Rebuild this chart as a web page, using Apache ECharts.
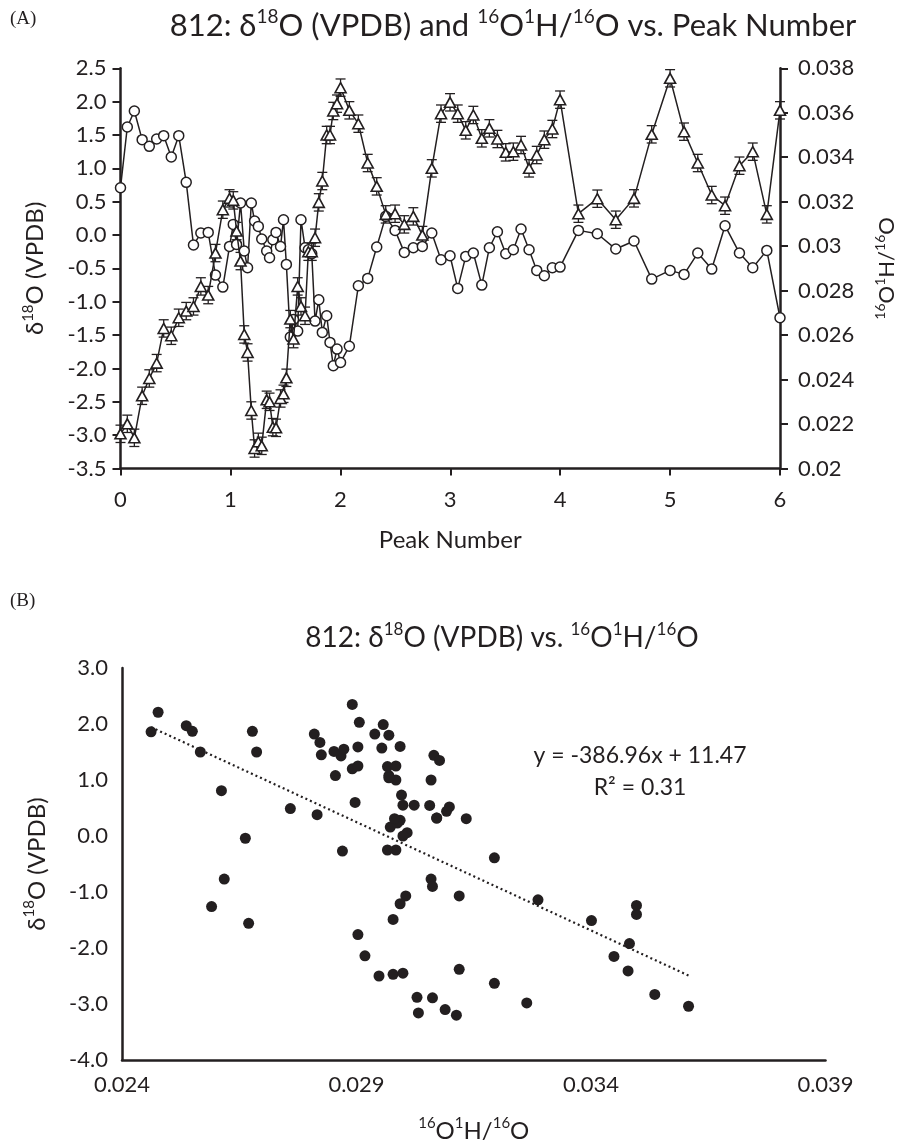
<!DOCTYPE html>
<html><head><meta charset="utf-8">
<script src="https://cdn.jsdelivr.net/npm/echarts@6/dist/echarts.min.js"></script>
<style>html,body{margin:0;padding:0;background:#fff;}#c{width:906px;height:1147px;}</style>
</head><body><div id="c"></div>
<script>
// Peak number (x position of each measurement in panel A)
const peakNumber = [0.00,0.062,0.126,0.197,0.262,0.329,0.393,0.462,0.530,0.598,0.664,0.731,0.798,0.864,0.931,
0.992,1.026,1.056,1.092,1.126,1.156,1.190,1.220,1.254,1.285,1.330,1.356,1.386,1.415,1.456,1.483,1.509,1.545,1.574,
1.612,1.642,1.679,1.709,1.740,1.770,1.804,1.836,1.876,1.906,1.936,1.970,2.002,2.082,2.164,2.249,2.331,2.413,2.498,
2.582,2.664,2.746,2.832,2.916,2.998,3.068,3.141,3.210,3.287,3.356,3.429,3.505,3.574,3.644,3.717,3.787,3.856,3.929,
3.999,4.166,4.338,4.506,4.672,4.833,5.000,5.127,5.252,5.379,5.500,5.631,5.752,5.880,6.000];
// δ18O (VPDB) — triangles, left axis
const d18O = [-2.98,-2.83,-3.04,-2.41,-2.15,-1.92,-1.40,-1.51,-1.24,-1.14,-1.07,-0.77,-0.90,-0.27,0.38,
0.55,0.52,0.06,-0.39,-1.49,-1.76,-2.63,-3.20,-3.10,-3.16,-2.47,-2.50,-2.88,-2.89,-2.45,-2.38,-2.14,-1.26,-1.56,
-0.77,-1.07,-1.21,-0.25,-0.25,-0.04,0.49,0.81,1.50,1.50,1.86,1.97,2.21,1.87,1.67,1.08,0.73,0.31,0.32,
0.16,0.28,0.00,1.00,1.82,1.99,1.82,1.57,1.80,1.45,1.60,1.44,1.24,1.25,1.35,1.00,1.20,1.43,1.59,
2.03,0.32,0.545,0.23,0.55,1.51,2.35,1.55,1.08,0.60,0.44,1.04,1.25,0.31,1.87];
// 16O1H/16O — circles, right axis
const ratio = [0.03263,0.03536,0.03608,0.03479,0.03449,0.03482,0.03497,0.03401,0.03497,0.03287,0.03005,0.03059,0.03062,0.02870,0.02816,
0.02999,0.03098,0.03008,0.03194,0.02978,0.02903,0.03194,0.03113,0.03089,0.03032,0.02978,0.02948,0.03029,0.03062,0.02999,0.03119,0.02918,0.02591,0.02670,
0.02618,0.03119,0.02993,0.02984,0.02966,0.02663,0.02759,0.02612,0.02687,0.02567,0.02462,0.02537,0.02477,0.02550,0.02822,0.02855,0.02996,0.03134,0.03071,
0.02972,0.02993,0.02999,0.03059,0.02939,0.02957,0.02810,0.02954,0.02969,0.02825,0.02993,0.03065,0.02966,0.02984,0.03077,0.02984,0.02891,0.02867,0.02903,
0.02906,0.03071,0.03056,0.02987,0.03023,0.02852,0.02891,0.02873,0.02969,0.02897,0.03092,0.02969,0.02903,0.02981,0.02678];
// half-length of the δ18O error bars
const errHalf = 0.13;
// trendline as printed on the chart
const trendSlope = -386.96, trendIntercept = 11.47;
const eqText = 'y = -386.96x + 11.47';
const r2Text = 'R² = 0.31';
// axis tick settings
const aTicksLeft = {min:-3.5, max:2.5, interval:0.5};
const aTicksRight = {min:0.020, max:0.038, interval:0.002};
const aTicksX = {min:0, max:6, interval:1};
const bTicksX = {min:0.024, max:0.039, interval:0.005};
const bTicksY = {min:-4, max:3, interval:1};

const INK = '#231f20';
const FONT = 'Lato';
const chart = echarts.init(document.getElementById('c'), null, {renderer:'canvas'});

const lineA = peakNumber.map((x,i)=>[x, d18O[i]]);
const circA = peakNumber.map((x,i)=>[x, ratio[i]]);
const bOff = bTicksX.min; // shift so ticks start at 0
const scatB = ratio.map((r,i)=>[r - bOff, d18O[i]]);
const rMin = Math.min(...ratio), rMax = Math.max(...ratio);
const trendB = [[rMin - bOff, trendSlope*rMin + trendIntercept],[rMax - bOff, trendSlope*rMax + trendIntercept]];

const richBase = (fs)=>({
  n:{fontSize:fs, fontFamily:FONT, fontWeight:'normal', color:INK, lineHeight:fs+6},
  s:{fontSize:Math.round(fs*0.62), fontFamily:FONT, fontWeight:'normal', color:INK, verticalAlign:'top', lineHeight:Math.round(fs*0.62)}
});

const axisLine = {show:true, onZero:false, lineStyle:{color:INK, width:2.5}};
const lbl = {color:INK, fontSize:22, fontFamily:FONT};

const option = {
  backgroundColor:'#fff',
  animation:false,
  title:[
    {text:'{n|812: δ}{s|18}{n|O (VPDB) and }{s|16}{n|O}{s|1}{n|H/}{s|16}{n|O vs. Peak Number}', left:508, top:2, textAlign:'center',
     textStyle:{fontWeight:'normal', rich:richBase(31)}},
    {text:'{n|812: δ}{s|18}{n|O (VPDB) vs. }{s|16}{n|O}{s|1}{n|H/}{s|16}{n|O}', left:497, top:616, textAlign:'center',
     textStyle:{fontWeight:'normal', rich:richBase(28)}}
  ],
  graphic:[
    {type:'text', left:10, top:10, style:{text:'(A)', font:'19px "Liberation Serif"', fill:INK}},
    {type:'text', left:10, top:592, style:{text:'(B)', font:'19px "Liberation Serif"', fill:INK}},
    {type:'text', x:640, y:756, style:{text:eqText, font:'23px '+FONT, fill:INK, align:'center', verticalAlign:'middle'}},
    {type:'text', x:640, y:788, style:{text:r2Text, font:'23px '+FONT, fill:INK, align:'center', verticalAlign:'middle'}}
  ],
  grid:[
    {left:120.5, right:126, top:68.3, height:400.2, containLabel:false},
    {left:122, right:80.5, top:668, height:392, containLabel:false}
  ],
  xAxis:[
    {gridIndex:0, type:'value', min:aTicksX.min, max:aTicksX.max, interval:aTicksX.interval,
     axisLine:axisLine, axisTick:{show:true, length:7, lineStyle:{color:INK, width:2}}, splitLine:{show:false},
     axisLabel:Object.assign({margin:20}, lbl),
     name:'Peak Number', nameLocation:'middle', nameGap:60, nameTextStyle:{fontSize:24, fontFamily:FONT, color:INK}},
    {gridIndex:1, type:'value', min:0, max:bTicksX.max-bOff, interval:bTicksX.interval,
     axisLine:axisLine, axisTick:{show:false}, splitLine:{show:false},
     axisLabel:Object.assign({margin:14, formatter:v=>(v+bOff).toFixed(3)}, lbl),
     name:'{s|16}{n|O}{s|1}{n|H/}{s|16}{n|O}', nameLocation:'middle', nameGap:56,
     nameTextStyle:{rich:richBase(24)}}
  ],
  yAxis:[
    {gridIndex:0, type:'value', position:'left', min:aTicksLeft.min, max:aTicksLeft.max, interval:aTicksLeft.interval,
     axisLine:axisLine, axisTick:{show:true, length:8, lineStyle:{color:INK, width:2}}, splitLine:{show:false},
     axisLabel:Object.assign({margin:14, formatter:v=>v.toFixed(1)}, lbl),
     name:'{n|δ}{s|18}{n|O (VPDB)}', nameLocation:'middle', nameGap:70, nameRotate:90,
     nameTextStyle:{rich:richBase(24)}},
    {gridIndex:0, type:'value', position:'right', min:aTicksRight.min, max:aTicksRight.max, interval:aTicksRight.interval,
     axisLine:axisLine, axisTick:{show:true, length:8, lineStyle:{color:INK, width:2}}, splitLine:{show:false},
     axisLabel:Object.assign({margin:18, formatter:v=>String(parseFloat(v.toFixed(3)))}, lbl),
     name:'{s|16}{n|O}{s|1}{n|H/}{s|16}{n|O}', nameLocation:'middle', nameGap:93, nameRotate:90,
     nameTextStyle:{rich:richBase(22)}},
    {gridIndex:1, type:'value', min:bTicksY.min, max:bTicksY.max, interval:bTicksY.interval,
     axisLine:axisLine, axisTick:{show:false}, splitLine:{show:false},
     axisLabel:Object.assign({margin:14, formatter:v=>v.toFixed(1)}, lbl),
     name:'{n|δ}{s|18}{n|O (VPDB)}', nameLocation:'middle', nameGap:70, nameRotate:90,
     nameTextStyle:{rich:richBase(24)}}
  ],
  series:[
    {type:'custom', xAxisIndex:0, yAxisIndex:0, data:lineA, z:2,
     renderItem:(params, api)=>{
       const x = api.value(0), y = api.value(1);
       const t = api.coord([x, y+errHalf]), b = api.coord([x, y-errHalf]);
       const w = 5, st = {stroke:INK, lineWidth:1.3};
       return {type:'group', children:[
         {type:'line', shape:{x1:t[0],y1:t[1],x2:b[0],y2:b[1]}, style:st},
         {type:'line', shape:{x1:t[0]-w,y1:t[1],x2:t[0]+w,y2:t[1]}, style:st},
         {type:'line', shape:{x1:b[0]-w,y1:b[1],x2:b[0]+w,y2:b[1]}, style:st}
       ]};
     }},
    {type:'line', xAxisIndex:0, yAxisIndex:1, data:circA, symbol:'circle', symbolSize:10, z:3,
     lineStyle:{color:INK, width:1.5}, itemStyle:{color:'#fff', borderColor:INK, borderWidth:1.5}},
    {type:'line', xAxisIndex:0, yAxisIndex:0, data:lineA, symbol:'triangle', symbolSize:[11,10], z:4,
     lineStyle:{color:INK, width:1.5}, itemStyle:{color:'#fff', borderColor:INK, borderWidth:1.6}},
    {type:'line', xAxisIndex:1, yAxisIndex:2, data:trendB, symbol:'none', z:2,
     lineStyle:{color:INK, width:2.2, type:[2,3]}},
    {type:'scatter', xAxisIndex:1, yAxisIndex:2, data:scatB, symbol:'circle', symbolSize:11, z:3,
     itemStyle:{color:INK, opacity:1}}
  ]
};
chart.setOption(option);
</script></body></html>
